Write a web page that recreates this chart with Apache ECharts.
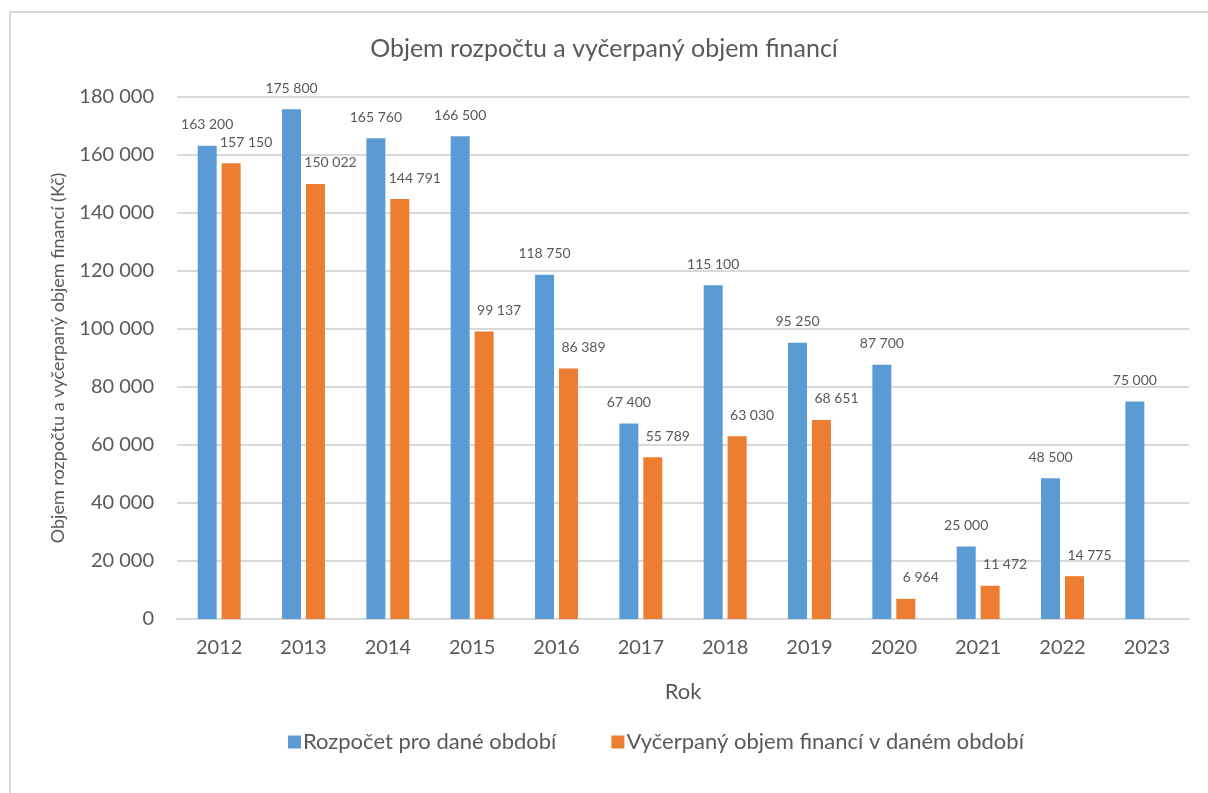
<!DOCTYPE html>
<html>
<head>
<meta charset="utf-8">
<script src="https://cdn.jsdelivr.net/npm/echarts@6/dist/echarts.min.js"></script>
<style>
  html, body { margin: 0; padding: 0; background: #fff; }
  #chart { width: 1208px; height: 793px; }
</style>
</head>
<body>
<div id="chart"></div>
<script>
// roky
var years = ['2012', '2013', '2014', '2015', '2016', '2017', '2018', '2019', '2020', '2021', '2022', '2023'];
// rozpočet pro dané období
var budget = [163200, 175800, 165760, 166500, 118750, 67400, 115100, 95250, 87700, 25000, 48500, 75000];
// vyčerpaný objem financí
var spent = [157150, 150022, 144791, 99137, 86389, 55789, 63030, 68651, 6964, 11472, 14775, null];

var font = 'Lato, "Open Sans", sans-serif';
var textColor = '#595959';

// mezera jako oddělovač tisíců
function fmt(v) {
  return String(v).replace(/\B(?=(\d{3})+(?!\d))/g, ' ');
}

var chart = echarts.init(document.getElementById('chart'));

var option = {
  animation: false,
  textStyle: { fontFamily: font, color: textColor },
  graphic: [{
    type: 'rect',
    shape: { x: 10, y: 12, width: 1400, height: 1000 },
    style: { fill: 'none', stroke: '#d9d9d9', lineWidth: 2 }
  }],
  title: {
    text: 'Objem rozpočtu a vyčerpaný objem financí',
    left: 'center',
    top: 31,
    textStyle: { fontFamily: font, fontSize: 25, fontWeight: 'normal', color: textColor }
  },
  legend: {
    left: 283,
    top: 726,
    itemWidth: 13,
    itemHeight: 13,
    itemGap: 55,
    icon: 'rect',
    textStyle: { fontFamily: font, fontSize: 22, color: textColor, padding: [0, 0, 0, -3] },
    data: ['Rozpočet pro dané období', 'Vyčerpaný objem financí v daném období']
  },
  grid: { left: 177, right: 19, top: 97, bottom: 174 },
  xAxis: {
    type: 'category',
    data: years,
    name: 'Rok',
    nameLocation: 'middle',
    nameGap: 62,
    nameTextStyle: { fontFamily: font, fontSize: 22, color: textColor },
    axisLine: { lineStyle: { color: '#d9d9d9', width: 2 } },
    axisTick: { show: false },
    axisLabel: { fontFamily: font, fontSize: 20, color: textColor, margin: 19 }
  },
  yAxis: {
    type: 'value',
    min: 0,
    max: 180000,
    interval: 20000,
    name: 'Objem rozpočtu a vyčerpaný objem financí (Kč)',
    nameLocation: 'middle',
    nameGap: 110,
    nameTextStyle: { fontFamily: font, fontSize: 18, color: textColor },
    axisLine: { show: false },
    axisTick: { show: false },
    axisLabel: { fontFamily: font, fontSize: 20, color: textColor, margin: 23, formatter: fmt },
    splitLine: { lineStyle: { color: '#d9d9d9', width: 2 } }
  },
  series: [{
    name: 'Rozpočet pro dané období',
    type: 'bar',
    data: budget,
    barWidth: 19,
    barGap: '26%',
    itemStyle: { color: '#5b9bd5' },
    label: {
      show: true, position: 'top', distance: 14,
      fontFamily: font, fontSize: 14, color: textColor,
      formatter: function (p) { return fmt(p.value); }
    }
  }, {
    name: 'Vyčerpaný objem financí v daném období',
    type: 'bar',
    data: spent,
    barWidth: 19,
    itemStyle: { color: '#ed7d31' },
    label: {
      show: true, position: 'top', distance: 14, offset: [15, 0],
      fontFamily: font, fontSize: 14, color: textColor,
      formatter: function (p) { return p.value == null ? '' : fmt(p.value); }
    }
  }]
};

chart.setOption(option);
</script>
</body>
</html>
